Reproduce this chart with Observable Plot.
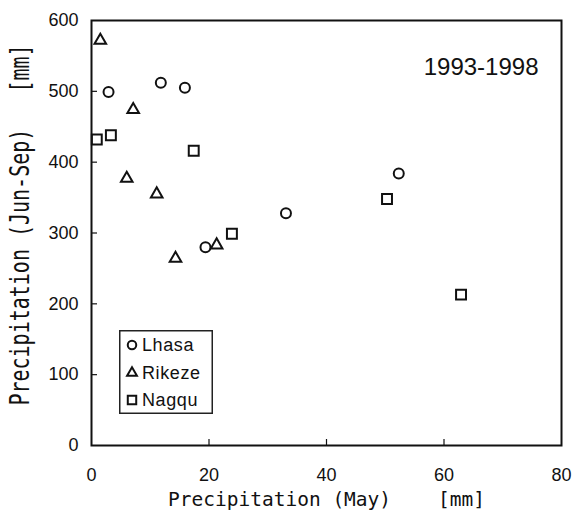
<!DOCTYPE html>
<html>
<head>
<meta charset="utf-8">
<script src="https://cdn.jsdelivr.net/npm/d3@7"></script>
<script src="https://cdn.jsdelivr.net/npm/@observablehq/plot@0.6"></script>
<style>
  html, body { margin: 0; padding: 0; background: #fff; }
  #chart { position: relative; width: 578px; height: 520px; }
  #legend { position: absolute; left: 119px; top: 330px; }
</style>
</head>
<body>
<div id="chart"></div>
<script>
// Precipitation in May vs. June–September at three Tibetan stations, 1993–1998 [mm]
const lhasaMay = [2.9, 11.8, 15.9, 19.4, 33.1, 52.3];
const lhasaSummer = [499, 512, 505, 280, 328, 384];
const rikezeMay = [1.5, 7.1, 6.0, 11.1, 14.3, 21.3];
const rikezeSummer = [572, 474, 377, 355, 264, 283];
const nagquMay = [0.9, 3.3, 17.4, 23.9, 50.3, 62.9];
const nagquSummer = [432, 438, 416, 299, 348, 213];

const stations = ["Lhasa", "Rikeze", "Nagqu"];
const symbols = ["circle", "triangle", "square"];
const symbolRadius = [5, 4.3, 5.6];
const xTicks = [0, 20, 40, 60, 80];
const yTicks = [0, 100, 200, 300, 400, 500, 600];
const periodLabel = "1993-1998";
const xTitle = "Precipitation (May)\u00a0\u00a0\u00a0\u00a0[mm]";
const yTitle = "Precipitation (Jun-Sep)\u00a0\u00a0\u00a0[mm]";

const W = 578, H = 520;
const mL = 91, mR = 17, mT = 20, mB = 75;
const innerW = W - mL - mR, innerH = H - mT - mB;
const ink = "#111";
const mono = "'DejaVu Sans Mono', 'Liberation Mono', monospace";

const series = [
  {name: stations[0], may: lhasaMay, summer: lhasaSummer},
  {name: stations[1], may: rikezeMay, summer: rikezeSummer},
  {name: stations[2], may: nagquMay, summer: nagquSummer}
].map((s, i) => ({
  ...s,
  symbol: symbols[i],
  r: symbolRadius[i],
  rows: s.may.map((m, j) => ({may: m, summer: s.summer[j]}))
}));

const plot = Plot.plot({
  width: W, height: H,
  marginLeft: mL, marginRight: mR, marginTop: mT, marginBottom: mB,
  style: {fontFamily: "'Liberation Sans', Arial, sans-serif", fontSize: "18px", color: ink, background: "#fff"},
  x: {domain: [0, 80]},
  y: {domain: [0, 600]},
  marks: [
    // short inward tick marks
    Plot.tickX(xTicks.slice(1, -1), {x: d => d, insetTop: innerH - 6, stroke: ink, strokeWidth: 1.2}),
    Plot.tickY(yTicks.slice(1, -1), {y: d => d, insetRight: innerW - 6, stroke: ink, strokeWidth: 1.2}),
    Plot.axisX(xTicks, {tickSize: 0, tickPadding: 23, fontSize: 18,
      label: xTitle, labelAnchor: "center", labelArrow: "none", labelOffset: 60}),
    Plot.axisY(yTicks, {tickSize: 0, tickPadding: 13, fontSize: 18,
      label: yTitle, labelAnchor: "center", labelArrow: "none", labelOffset: 81}),
    ...series.map(s => Plot.dot(s.rows, {x: "may", y: "summer", symbol: () => s.symbol, r: s.r,
      stroke: ink, strokeWidth: 2, fill: "none"})),
    Plot.text([periodLabel], {frameAnchor: "top-right", lineAnchor: "top", dx: -23, dy: 37,
      textAnchor: "end", fontSize: 24, fill: ink}),
    Plot.frame({stroke: ink, strokeWidth: 2})
  ]
});

// monospaced axis titles; the vertical one has taller glyphs
const xLab = plot.querySelector('g[aria-label="x-axis label"]');
if (xLab) {
  xLab.setAttribute("font-family", mono);
  xLab.setAttribute("font-size", "19.5");
}
const yLab = plot.querySelector('g[aria-label="y-axis label"]');
if (yLab) {
  yLab.setAttribute("font-family", mono);
  yLab.setAttribute("font-size", "20");
  yLab.setAttribute("transform", `translate(0,-8) ${yLab.getAttribute("transform") || ""}`);
  yLab.querySelectorAll("text").forEach(t => {
    t.setAttribute("transform", `${t.getAttribute("transform") || ""} scale(1,1.3)`);
  });
}

const chart = document.getElementById("chart");
chart.appendChild(plot);

// legend box with symbols and station names
const lw = 94, lh = 84, rowY = [15, 43, 70];
const legend = d3.create("svg").attr("id", "legend").attr("width", lw).attr("height", lh)
  .style("font-family", "'Liberation Sans', Arial, sans-serif").style("font-size", "18px");
legend.append("rect").attr("x", 0.75).attr("y", 0.75).attr("width", lw - 1.5).attr("height", lh - 1.5)
  .attr("fill", "#fff").attr("stroke", "#222").attr("stroke-width", 1.5);
const symType = {circle: d3.symbolCircle, triangle: d3.symbolTriangle, square: d3.symbolSquare};
series.forEach((s, i) => {
  const g = legend.append("g").attr("transform", `translate(13,${rowY[i]})`);
  g.append("path").attr("d", d3.symbol(symType[s.symbol], Math.PI * (s.r * 0.85) ** 2)())
    .attr("fill", "none").attr("stroke", ink).attr("stroke-width", 2);
  g.append("text").attr("x", 10).attr("dy", "0.35em").attr("fill", ink)
    .attr("letter-spacing", "0.6").text(s.name);
});
chart.appendChild(legend.node());
</script>
</body>
</html>
